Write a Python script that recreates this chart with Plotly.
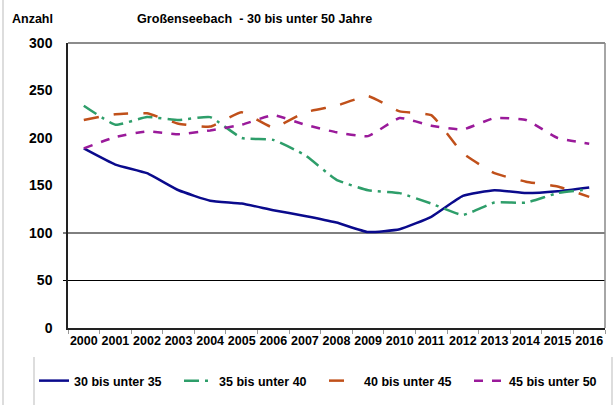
import plotly.graph_objects as go

years = [str(y) for y in range(2000, 2017)]
s30_35 = [189, 172, 163, 145, 134, 131, 124, 118, 111, 101, 104, 117, 139, 145, 142, 144, 148]
s35_40 = [234, 214, 222, 219, 222, 200, 198, 182, 156, 145, 142, 131, 119, 132, 132, 142, 146]
s40_45 = [219, 225, 226, 215, 212, 227, 211, 227, 234, 244, 228, 224, 184, 163, 154, 149, 138]
s45_50 = [189, 201, 207, 204, 208, 214, 224, 214, 206, 202, 221, 213, 209, 221, 219, 200, 194]
names = ["30 bis unter 35", "35 bis unter 40", "40 bis unter 45", "45 bis unter 50"]
yticks = [0, 50, 100, 150, 200, 250, 300]
gridvals = [50, 100]

colors = ["#0A0A8C", "#2E9E6A", "#C0501A", "#9A1A9A"]
dashes = ["solid", "longdashdot", "longdash", "dash"]
series = [s30_35, s35_40, s40_45, s45_50]

fig = go.Figure()
for name, vals, c, d in zip(names, series, colors, dashes):
    fig.add_trace(go.Scatter(
        x=years, y=vals, name=name, mode="lines",
        line=dict(color=c, width=2.5, dash=d, shape="spline", smoothing=0.4),
    ))

FONT = "Liberation Sans, Arial, sans-serif"
PW, PH = 537, 285
shapes = []
for g in gridvals:
    shapes.append(dict(type="line", xref="paper", yref="y", x0=-5/PW, x1=1, y0=g, y1=g,
                       line=dict(color="#000000", width=1), layer="below"))
# top and right frame
shapes.append(dict(type="line", xref="paper", yref="paper", x0=0, x1=1, y0=1, y1=1,
                   line=dict(color="#666666", width=1.5)))
shapes.append(dict(type="line", xref="paper", yref="paper", x0=1, x1=1, y0=0, y1=1,
                   line=dict(color="#888888", width=1.5)))
# outer chart border left
shapes.append(dict(type="line", xref="paper", yref="paper", x0=-65/PW, x1=-65/PW, y0=-77/PH, y1=1 + 43/PH,
                   line=dict(color="#BBBBBB", width=1)))
# legend box sides
shapes.append(dict(type="line", xref="paper", yref="paper", x0=-34/PW, x1=-34/PW, y0=-77/PH, y1=-29/PH,
                   line=dict(color="#BBBBBB", width=1)))
shapes.append(dict(type="line", xref="paper", yref="paper", x0=544/PW, x1=544/PW, y0=-77/PH, y1=-29/PH,
                   line=dict(color="#BBBBBB", width=1)))

fig.update_layout(
    width=614, height=405,
    margin=dict(l=68, r=9, t=43, b=77, autoexpand=False),
    paper_bgcolor="white", plot_bgcolor="white",
    font=dict(family=FONT, size=12, color="#000000"),
    showlegend=True,
    legend=dict(orientation="h", x=-34/PW, xanchor="left", y=-38/PH, yanchor="top",
                font=dict(family=FONT, size=12.5, color="#000000", weight="bold"),
                itemwidth=30, entrywidth=100, tracegroupgap=0, bgcolor="rgba(0,0,0,0)"),
    shapes=shapes,
    annotations=[
        dict(text="<b>Anzahl</b>", xref="paper", yref="paper", x=-58/PW, y=1 + 24/PH,
             xanchor="left", yanchor="middle", showarrow=False, font=dict(size=12.5, family=FONT)),
        dict(text="<b>Großenseebach  - 30 bis unter 50 Jahre</b>", xref="paper", yref="paper",
             x=(254 - 68) / PW, y=1 + 24/PH, xanchor="center", yanchor="middle", showarrow=False,
             font=dict(size=12.6, family=FONT)),
    ],
)
fig.update_xaxes(
    type="category", range=[-0.5, 16.5], tickson="boundaries", ticks="outside", ticklen=4,
    tickcolor="#999999", showline=True, linecolor="#222222", linewidth=2, showgrid=False,
    tickfont=dict(size=12.5, family=FONT, weight="bold"), tickangle=0, automargin=False,
)
fig.update_yaxes(
    range=[0, 300], tickvals=yticks, ticks="", showline=True, linecolor="#222222", linewidth=1.5,
    showgrid=False, zeroline=False, tickfont=dict(size=14, family=FONT, weight="bold"),
    ticklabelstandoff=11, automargin=False,
)
fig.write_html("out.html", post_script="document.body.style.margin='0';",
               config={"displayModeBar": False})
